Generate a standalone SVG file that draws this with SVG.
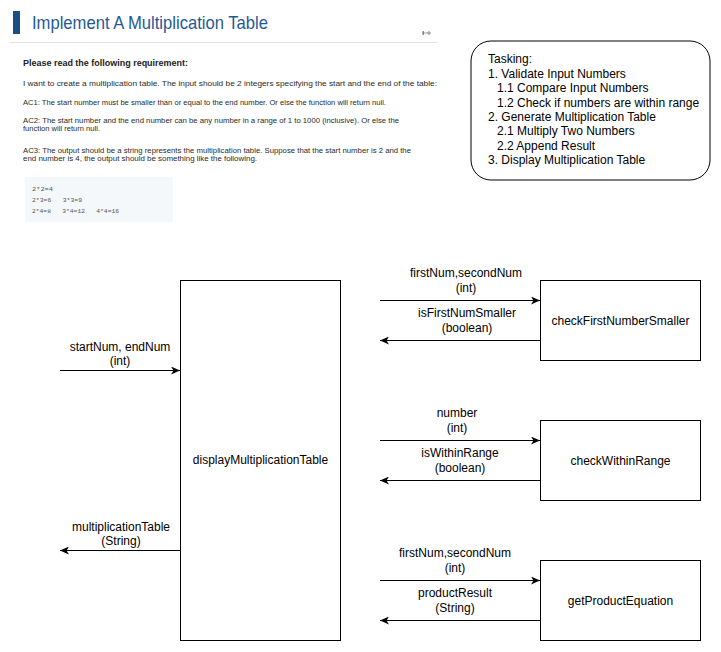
<svg xmlns="http://www.w3.org/2000/svg" width="721" height="652" viewBox="0 0 721 652">
<style>
  .t { font-family: "Liberation Sans", Arial, sans-serif; font-size: 12px; fill: #000; }
  .m { text-anchor: middle; }
  .p { font-family: "Liberation Sans", Arial, sans-serif; font-size: 7px; fill: #2a2a2a; }
  .c { font-family: "Liberation Mono", "DejaVu Sans Mono", monospace; font-size: 6px; fill: #555; }
  .box { fill: #fff; stroke: #000; stroke-width: 1; }
  .ln { fill: none; stroke: #000; stroke-width: 1; }
</style>
<defs>
  <marker id="arr" markerWidth="10" markerHeight="8" refX="9" refY="4" orient="auto" markerUnits="userSpaceOnUse">
    <path d="M0,0 L9,4 L0,8 L2.5,4 Z" fill="#000"/>
  </marker>
</defs>
<rect width="721" height="652" fill="#fff"/>

<g id="header">
  <rect x="13" y="11" width="7" height="23" fill="#1a4f85"/>
  <text x="32" y="28.5" font-family="Liberation Sans, Arial, sans-serif" font-size="18.5" fill="#1f5a96" textLength="236" lengthAdjust="spacingAndGlyphs">Implement A Multiplication Table</text>
  <line x1="10" y1="42.5" x2="437" y2="42.5" stroke="#e3e3e3" stroke-width="1"/>
  <g fill="#888" stroke="#888" stroke-width="0.8">
    <line x1="422" y1="33" x2="430" y2="33"/>
    <rect x="422.5" y="31" width="1.5" height="4" stroke="none"/>
    <circle cx="429" cy="33" r="1.3" fill="none"/>
  </g>
  <text x="23" y="66" font-family="Liberation Sans, Arial, sans-serif" font-size="9" font-weight="bold" fill="#222" textLength="165" lengthAdjust="spacingAndGlyphs">Please read the following requirement:</text>
  <text class="p" x="23" y="86" textLength="414" lengthAdjust="spacingAndGlyphs">I want to create a multiplication table. The input should be 2 integers specifying the start and the end of the table:</text>
  <text class="p" x="23" y="104.5" textLength="363" lengthAdjust="spacingAndGlyphs">AC1: The start number must be smaller than or equal to the end number. Or else the function will return null.</text>
  <text class="p" x="23" y="122.5" textLength="376" lengthAdjust="spacingAndGlyphs">AC2: The start number and the end number can be any number in a range of 1 to 1000 (inclusive). Or else the</text>
  <text class="p" x="23" y="130.5" textLength="77" lengthAdjust="spacingAndGlyphs">function will return null.</text>
  <text class="p" x="23" y="152.5" textLength="388" lengthAdjust="spacingAndGlyphs">AC3: The output should be a string represents the multiplication table. Suppose that the start number is 2 and the</text>
  <text class="p" x="23" y="160.5" textLength="234" lengthAdjust="spacingAndGlyphs">end number is 4, the output should be something like the following.</text>
  <rect x="25" y="177" width="148" height="45" fill="#f5f8fb"/>
  <text class="c" x="32" y="190.5" textLength="21" lengthAdjust="spacingAndGlyphs">2*2=4</text>
  <text class="c" x="32" y="201.5" xml:space="preserve" textLength="50" lengthAdjust="spacingAndGlyphs">2*3=6   3*3=9</text>
  <text class="c" x="32" y="213" xml:space="preserve" textLength="87" lengthAdjust="spacingAndGlyphs">2*4=8   3*4=12   4*4=16</text>
</g>

<g id="tasking">
  <rect x="471" y="41" width="239" height="139" rx="20" ry="20" class="box"/>
  <text class="t" x="488" y="63.3">Tasking:</text>
  <text class="t" x="488" y="77.7">1. Validate Input Numbers</text>
  <text class="t" x="497" y="92.1">1.1 Compare Input Numbers</text>
  <text class="t" x="497" y="106.5">1.2 Check if numbers are within range</text>
  <text class="t" x="488" y="120.9">2. Generate Multiplication Table</text>
  <text class="t" x="497" y="135.3">2.1 Multiply Two Numbers</text>
  <text class="t" x="497" y="149.7">2.2 Append Result</text>
  <text class="t" x="488" y="164.1">3. Display Multiplication Table</text>
</g>

<g id="displayMultiplicationTable">
  <rect x="180.5" y="280.5" width="160" height="360" class="box"/>
  <text class="t m" x="260.5" y="464">displayMultiplicationTable</text>
</g>
<g id="checkFirstNumberSmaller">
  <rect x="540.5" y="280.5" width="160" height="80" class="box"/>
  <text class="t m" x="620.5" y="325">checkFirstNumberSmaller</text>
</g>
<g id="checkWithinRange">
  <rect x="540.5" y="420.5" width="160" height="80" class="box"/>
  <text class="t m" x="620.5" y="465">checkWithinRange</text>
</g>
<g id="getProductEquation">
  <rect x="540.5" y="560.5" width="160" height="80" class="box"/>
  <text class="t m" x="620.5" y="605">getProductEquation</text>
</g>

<g id="connectors">
  <line class="ln" x1="60" y1="370.5" x2="180" y2="370.5" marker-end="url(#arr)"/>
  <line class="ln" x1="180" y1="550.5" x2="60" y2="550.5" marker-end="url(#arr)"/>
  <line class="ln" x1="380" y1="300.5" x2="540" y2="300.5" marker-end="url(#arr)"/>
  <line class="ln" x1="540" y1="340.5" x2="380" y2="340.5" marker-end="url(#arr)"/>
  <line class="ln" x1="380" y1="440.5" x2="540" y2="440.5" marker-end="url(#arr)"/>
  <line class="ln" x1="540" y1="480.5" x2="380" y2="480.5" marker-end="url(#arr)"/>
  <line class="ln" x1="380" y1="580.5" x2="540" y2="580.5" marker-end="url(#arr)"/>
  <line class="ln" x1="540" y1="620.5" x2="380" y2="620.5" marker-end="url(#arr)"/>

  <text class="t m" x="120" y="351">startNum, endNum</text>
  <text class="t m" x="120" y="365">(int)</text>
  <text class="t m" x="121" y="531">multiplicationTable</text>
  <text class="t m" x="121" y="545">(String)</text>

  <text class="t m" x="466" y="277">firstNum,secondNum</text>
  <text class="t m" x="466" y="292">(int)</text>
  <text class="t m" x="467" y="317">isFirstNumSmaller</text>
  <text class="t m" x="467" y="332">(boolean)</text>

  <text class="t m" x="457" y="417">number</text>
  <text class="t m" x="457" y="432">(int)</text>
  <text class="t m" x="460" y="457">isWithinRange</text>
  <text class="t m" x="460" y="472">(boolean)</text>

  <text class="t m" x="455" y="557">firstNum,secondNum</text>
  <text class="t m" x="455" y="572">(int)</text>
  <text class="t m" x="455" y="597">productResult</text>
  <text class="t m" x="455" y="612">(String)</text>
</g>
</svg>
